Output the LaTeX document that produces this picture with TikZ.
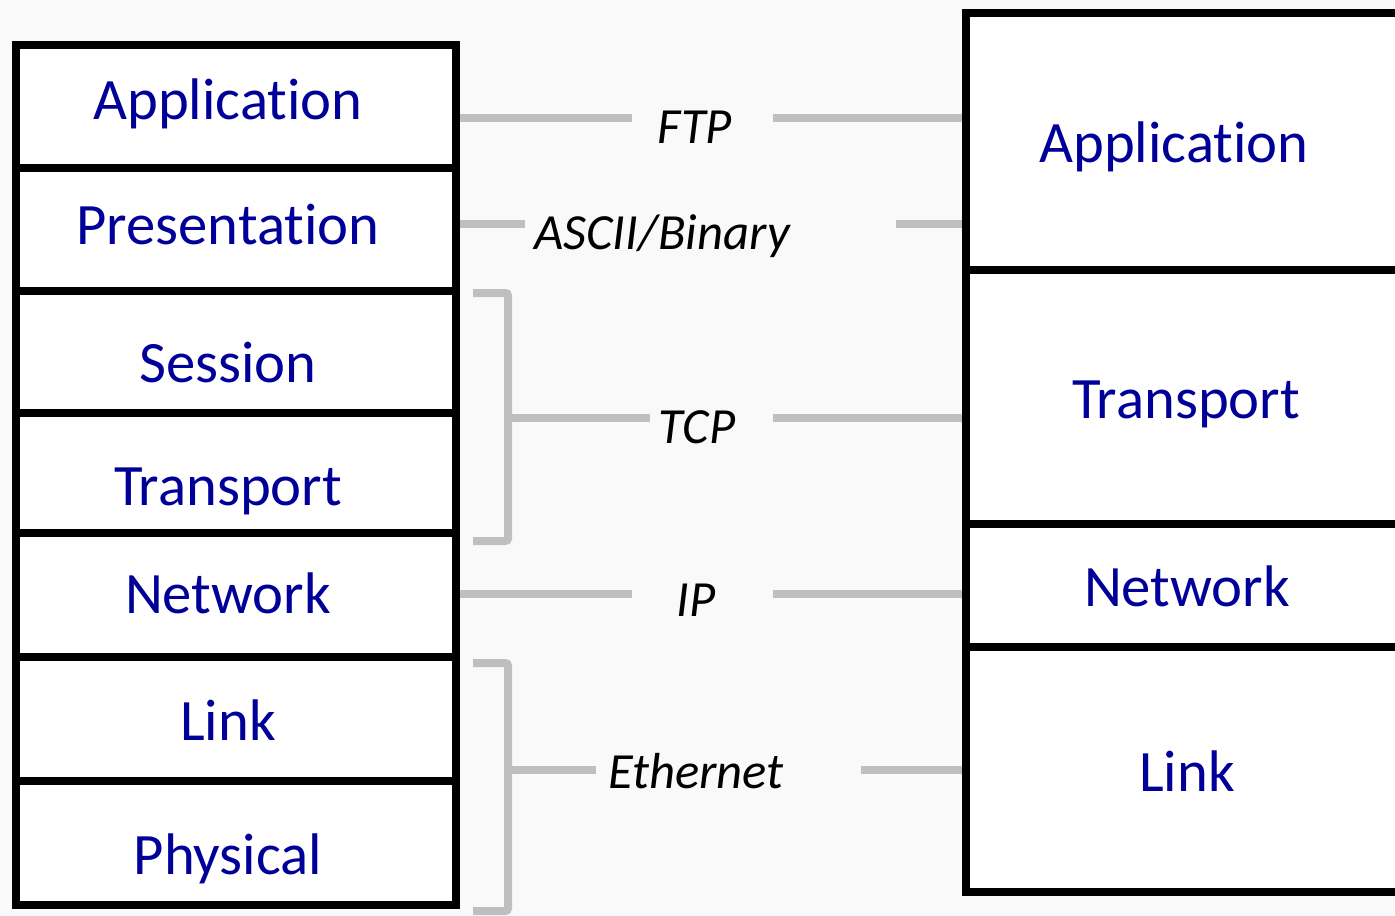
\documentclass[tikz,border=0pt]{standalone}
\usepackage{fontspec}
\setmainfont{Carlito}[Ligatures={NoCommon}]
\definecolor{layerblue}{RGB}{0,0,153}
\definecolor{conngray}{RGB}{191,191,191}
\definecolor{bgpaper}{RGB}{249,249,249}
\begin{document}
\begin{tikzpicture}[x=0.75pt,y=-0.75pt,
  box/.style={draw=black, line width=6pt, fill=white, inner sep=0pt},
  lbox/.style={box, minimum width=330pt},
  rbox/.style={box, minimum width=340.5pt},
  layer/.style={text=layerblue, font=\fontsize{44}{50}\selectfont, inner sep=0pt, anchor=base},
  proto/.style={text=black, font=\fontsize{38}{44}\selectfont\itshape, inner sep=0pt, anchor=base},
  conn/.style={draw=conngray, line width=6pt},
  brace/.style={conn, rounded corners=2pt}]
\clip (0,0) rectangle (1395,916);
\fill[bgpaper] (0,0) rectangle (1395,916);

% left stack (OSI)
\node[lbox, minimum height=92.25pt] (lapp) at (236,106.5) {};
\node[lbox, minimum height=92.25pt] (lpre) at (236,229.5) {};
\node[lbox, minimum height=91.5pt]  (lses) at (236,352) {};
\node[lbox, minimum height=90pt]    (ltra) at (236,473) {};
\node[lbox, minimum height=93pt]    (lnet) at (236,595) {};
\node[lbox, minimum height=93pt]    (llnk) at (236,719) {};
\node[lbox, minimum height=93pt]    (lphy) at (236,843) {};

\node[layer] (tlapp) at (228,120) {Application};
\node[layer] (tlpre) at (228,245) {Presentation};
\node[layer] (tlses) at (228,382) {Session};
\node[layer] (tltra) at (228,505) {Transport};
\node[layer] (tlnet) at (228,613) {Network};
\node[layer] (tllnk) at (228,740) {Link};
\node[layer] (tlphy) at (228,874) {Physical};

% right stack (TCP/IP)
\node[rbox, minimum height=192.75pt] (rapp) at (1193,141.5) {};
\node[rbox, minimum height=190.5pt]  (rtra) at (1193,397) {};
\node[rbox, minimum height=92.25pt]  (rnet) at (1193,585.5) {};
\node[rbox, minimum height=183.75pt] (rlnk) at (1193,769.5) {};

\node[layer] (trapp) at (1174,163) {Application};
\node[layer] (trtra) at (1186,418) {Transport};
\node[layer] (trnet) at (1187,606) {Network};
\node[layer] (trlnk) at (1187,791) {Link};

% protocol labels
\node[proto] (ftp) at (695,144) {FTP};
\node[proto] (asc) at (662,250) {ASCII/Binary};
\node[proto] (tcp) at (697,443) {TCP};
\node[proto] (ip)  at (696,616) {IP};
\node[proto] (eth) at (696,788) {Ethernet};

% connector end points
\coordinate (ftpA) at (632,118);
\coordinate (ftpB) at (773,118);
\coordinate (ascA) at (525,224);
\coordinate (ascB) at (896,224);
\coordinate (tcpA) at (650,418);
\coordinate (tcpB) at (773,418);
\coordinate (ipA)  at (632,594);
\coordinate (ipB)  at (773,594);
\coordinate (ethA) at (596,770);
\coordinate (ethB) at (861,770);
\coordinate (tcpT) at (473,293);
\coordinate (tcpS) at (508,293);
\coordinate (tcpE) at (508,541);
\coordinate (tcpU) at (473,541);
\coordinate (ethT) at (473,663);
\coordinate (ethS) at (508,663);
\coordinate (ethE) at (508,911);
\coordinate (ethU) at (473,911);

% FTP
\draw[conn] (lapp.east |- ftpA) -- (ftpA);
\draw[conn] (ftpB) -- (rapp.west |- ftpB);
% ASCII/Binary
\draw[conn] (lpre.east |- ascA) -- (ascA);
\draw[conn] (ascB) -- (rapp.west |- ascB);
% TCP
\draw[brace] (tcpT) -- (tcpS) -- (tcpE) -- (tcpU);
\draw[conn] (tcpS |- tcpA) -- (tcpA);
\draw[conn] (tcpB) -- (rtra.west |- tcpB);
% IP
\draw[conn] (lnet.east |- ipA) -- (ipA);
\draw[conn] (ipB) -- (rnet.west |- ipB);
% Ethernet
\draw[brace] (ethT) -- (ethS) -- (ethE) -- (ethU);
\draw[conn] (ethS |- ethA) -- (ethA);
\draw[conn] (ethB) -- (rlnk.west |- ethB);
\end{tikzpicture}
\end{document}
